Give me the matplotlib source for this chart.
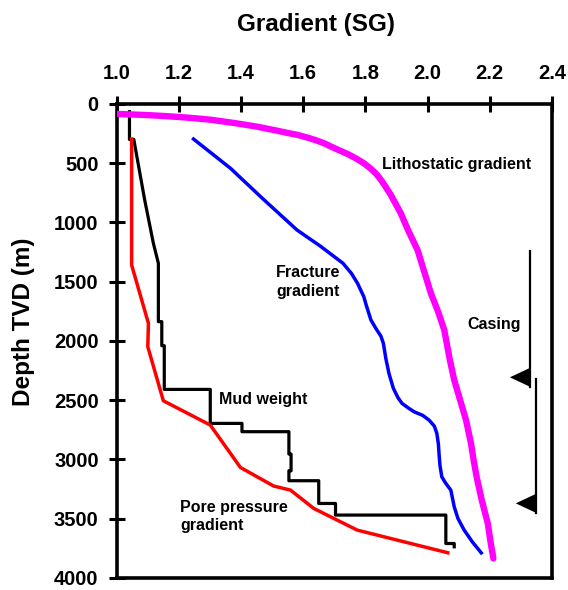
import matplotlib
matplotlib.use("Agg")
import matplotlib.pyplot as plt

plt.rcParams["font.family"] = ["Liberation Sans", "DejaVu Sans"]
plt.rcParams["font.weight"] = "bold"

# depth (m) / gradient (SG) pairs
litho_depth = [84, 88, 92, 97, 103, 110, 117, 125, 134, 147, 160, 176, 193, 203,
               225, 245, 260, 285, 310, 335, 358, 390, 425, 460, 500, 545, 590,
               640, 690, 760, 840, 923, 1080, 1233, 1420, 1599, 1760, 1909, 2162,
               2331, 2500, 2669, 2866, 3000, 3148, 3350, 3541, 3700, 3837]
litho_sg = [1.0, 1.04, 1.08, 1.12, 1.16, 1.20, 1.235, 1.27, 1.305, 1.34, 1.376,
            1.415, 1.455, 1.473, 1.515, 1.55, 1.58, 1.615, 1.645, 1.67, 1.688,
            1.715, 1.745, 1.77, 1.795, 1.817, 1.835, 1.85, 1.863, 1.88, 1.897,
            1.914, 1.94, 1.968, 1.99, 2.011, 2.035, 2.054, 2.072, 2.086, 2.105,
            2.124, 2.14, 2.148, 2.158, 2.175, 2.194, 2.203, 2.212]

frac_depth = [296, 543, 800, 1064, 1200, 1345, 1430, 1515, 1627, 1700, 1824,
              1900, 1960, 2021, 2150, 2275, 2400, 2480, 2528, 2570, 2599, 2630,
              2669, 2720, 2781, 2870, 2950, 3050, 3148, 3200, 3260, 3401, 3500,
              3598, 3700, 3790]
frac_sg = [1.247, 1.366, 1.47, 1.58, 1.655, 1.728, 1.755, 1.775, 1.795, 1.803,
           1.818, 1.835, 1.85, 1.858, 1.866, 1.876, 1.89, 1.905, 1.918, 1.94,
           1.957, 1.985, 2.005, 2.022, 2.03, 2.035, 2.037, 2.04, 2.046, 2.058,
           2.075, 2.086, 2.098, 2.118, 2.145, 2.173]

pore_depth = [296, 1360, 1852, 2050, 2506, 2711, 3069, 3226, 3260, 3415, 3598, 3789]
pore_sg = [1.048, 1.048, 1.102, 1.10, 1.15, 1.301, 1.398, 1.505, 1.559, 1.634,
           1.774, 2.065]

mud_depth = [65, 300, 300, 811, 1177, 1345, 1838, 1838, 2041, 2041, 2410, 2410,
             2697, 2697, 2767, 2767, 2956, 2956, 3097, 3097, 3181, 3181, 3373,
             3373, 3471, 3471, 3711, 3711, 3739]
mud_sg = [1.041, 1.041, 1.055, 1.09, 1.118, 1.134, 1.134, 1.145, 1.145, 1.153,
          1.153, 1.301, 1.301, 1.403, 1.403, 1.554, 1.554, 1.561, 1.561, 1.554,
          1.554, 1.65, 1.65, 1.704, 1.704, 2.059, 2.059, 2.086, 2.086]

# casing strings: x position, top and shoe depth
casing_x = [2.33, 2.349]
casing_top = [1239, 2325]
casing_shoe = [2388, 3452]
shoe_w = 0.065
shoe_h = 160

fig = plt.figure(figsize=(5.68, 5.90), dpi=100)
ax = fig.add_axes([0.2055, 0.0208, 0.766, 0.803])

ax.plot(litho_sg, litho_depth, color="#ff00ff", lw=4.6, solid_capstyle="round",
        solid_joinstyle="round", zorder=3)
ax.plot(frac_sg, frac_depth, color="#0000ff", lw=2.5, solid_joinstyle="round",
        zorder=3)
ax.plot(pore_sg, pore_depth, color="#ff0000", lw=2.5, zorder=3)
ax.plot(mud_sg, mud_depth, color="black", lw=2.3, zorder=2)

for x, top, shoe in zip(casing_x, casing_top, casing_shoe):
    ax.plot([x, x], [top, shoe], color="black", lw=1.6)
    ax.fill([x, x - shoe_w, x], [shoe - shoe_h, shoe - shoe_h / 2, shoe],
            color="black", lw=0)

ax.set_xlim(1.0, 2.4)
ax.set_ylim(4000, 0)
ax.set_xticks([1.0, 1.2, 1.4, 1.6, 1.8, 2.0, 2.2, 2.4])
ax.set_xticklabels(["1.0", "1.2", "1.4", "1.6", "1.8", "2.0", "2.2", "2.4"])
ax.set_yticks(range(0, 4001, 500))
ax.xaxis.tick_top()
ax.tick_params(axis="x", direction="inout", length=11.5, width=2.2, pad=9,
               labelsize=14.5)
ax.tick_params(axis="y", direction="inout", length=12, width=2.2, pad=7,
               labelsize=14.5)
for lab in ax.get_xticklabels() + ax.get_yticklabels():
    lab.set_fontweight("bold")
for s in ax.spines.values():
    s.set_linewidth(2.6)

fig.text(316 / 568, 1 - 24 / 590, "Gradient (SG)", ha="center", va="center",
         fontsize=17.5, fontweight="bold")
fig.text(24 / 568, 1 - 322 / 590, "Depth TVD (m)", ha="center", va="center",
         rotation=90, fontsize=17.5, fontweight="bold")

tkw = dict(fontsize=11.5, fontweight="bold", va="center")
ax.text(1.854, 515, "Lithostatic gradient", ha="left", **tkw)
ax.text(1.617, 1503, "Fracture\ngradient", ha="center", multialignment="center",
        linespacing=1.3, **tkw)
ax.text(1.328, 2494, "Mud weight", ha="left", **tkw)
ax.text(1.204, 3483, "Pore pressure\ngradient", ha="left", linespacing=1.3, **tkw)
ax.text(2.129, 1858, "Casing", ha="left", **tkw)

fig.savefig("out.png", dpi=100)
